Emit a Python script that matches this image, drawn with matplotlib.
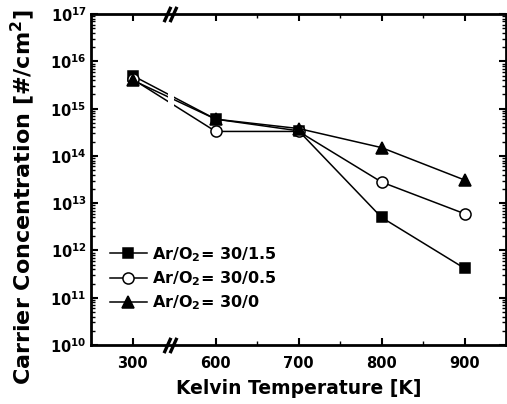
import matplotlib
matplotlib.use('Agg')
import matplotlib.pyplot as plt
from matplotlib import ticker
import matplotlib.transforms as mtransforms

# Datos
temperaturas = [300, 600, 700, 800, 900]
etiquetasX = ['300', '600', '700', '800', '900']
conc_15 = [5.0e15, 6.0e14, 3.4e14, 5.0e12, 4.2e11]
conc_05 = [4.2e15, 3.3e14, 3.3e14, 2.8e13, 6.0e12]
conc_00 = [4.0e15, 6.0e14, 3.8e14, 1.5e14, 3.1e13]
etiquetasSerie = [r'Ar/O$_2$= 30/1.5', r'Ar/O$_2$= 30/0.5', r'Ar/O$_2$= 30/0']
decadas = [10, 11, 12, 13, 14, 15, 16, 17]

plt.rcParams['font.family'] = ['DejaVu Sans']
plt.rcParams['font.weight'] = 'bold'
plt.rcParams['mathtext.fontset'] = 'custom'
plt.rcParams['mathtext.rm'] = 'DejaVu Sans:bold'
plt.rcParams['mathtext.it'] = 'DejaVu Sans:bold'
plt.rcParams['mathtext.bf'] = 'DejaVu Sans:bold'

# El eje tiene un corte: 300 K se dibuja en la posición 500
posX = [500, 600, 700, 800, 900]

fig = plt.figure(figsize=(5.07, 4.04), dpi=100)
ax = fig.add_axes([0.18, 0.146, 0.818, 0.819])

estilos = [('s', 'black'), ('o', 'white'), ('^', 'black')]
tamanos = [7, 8, 8.5]
for serie, (marca, relleno), tam, etiqueta in zip([conc_15, conc_05, conc_00], estilos, tamanos, etiquetasSerie):
    ax.plot(posX, serie, color='black', lw=1.1, marker=marca, markersize=tam,
            markerfacecolor=relleno, markeredgecolor='black', markeredgewidth=1.1,
            label=etiqueta, zorder=3)

# Hueco en las líneas en el corte del eje
ax.axvspan(543, 550, ymin=0.65, ymax=0.85, color='white', zorder=4, lw=0)

ax.set_yscale('log')
ax.set_xlim(450, 950)
ax.set_ylim(1e10, 1e17)

ax.set_xticks(posX)
ax.set_xticklabels(etiquetasX)
ax.xaxis.set_minor_locator(ticker.FixedLocator([650, 750, 850]))
ax.set_yticks([10.0 ** d for d in decadas])
ax.set_yticklabels([rf'$10^{{{d}}}$' for d in decadas])
ax.yaxis.set_minor_locator(ticker.LogLocator(base=10, subs=range(2, 10), numticks=20))
ax.yaxis.set_minor_formatter(ticker.NullFormatter())

ax.tick_params(which='both', direction='in', top=True, right=True, labelsize=10.5)
ax.tick_params(which='major', length=5, width=1.5)
ax.tick_params(which='minor', length=3, width=1.0)
ax.tick_params(axis='x', pad=8)
for s in ax.spines.values():
    s.set_linewidth(2)

# Marcas de corte en el eje
trans = mtransforms.blended_transform_factory(ax.transData, ax.transAxes)
for yy in [0, 1]:
    ax.plot([541, 549], [yy, yy], transform=trans, linestyle='none',
            marker=[(-0.45, -1), (0.45, 1)], markersize=11, markeredgewidth=2.4,
            color='black', clip_on=False, zorder=5)

ax.set_xlabel('Kelvin Temperature [K]', fontsize=13.5, fontweight='bold', labelpad=6)
ax.set_ylabel(r'Carrier Concentration [#/cm$^2$]', fontsize=16, fontweight='bold')
ax.yaxis.set_label_coords(-0.13, 0.445)

ax.legend(loc='lower left', bbox_to_anchor=(0.03, 0.08), frameon=False, fontsize=11.5,
          handlelength=2.3, labelspacing=0.35, handletextpad=0.3, borderaxespad=0)

plt.savefig('out.png', dpi=100)
